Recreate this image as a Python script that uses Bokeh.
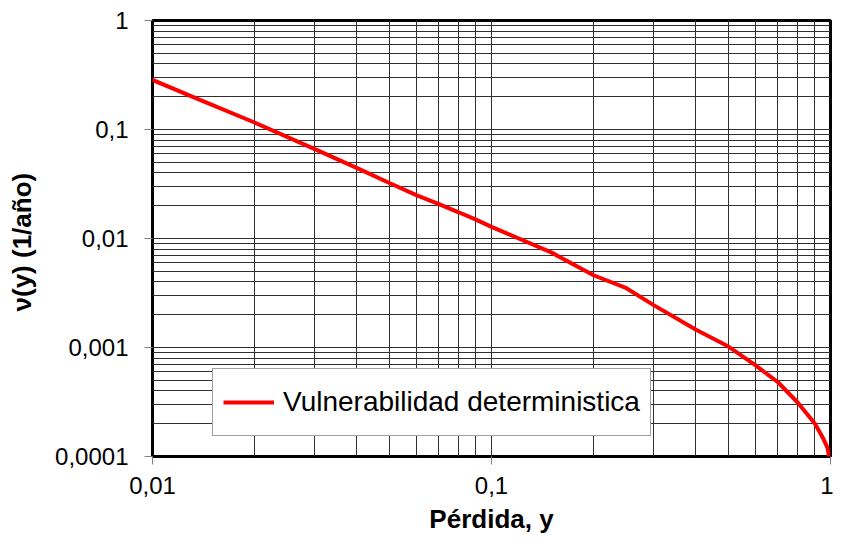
from bokeh.plotting import figure
from bokeh.models import FixedTicker, CustomJSTickFormatter
from bokeh.embed import file_html
from bokeh.resources import INLINE

# ---- data ----
perdida = [0.01, 0.0138, 0.02, 0.03, 0.04, 0.05, 0.06, 0.07, 0.08, 0.09, 0.1,
           0.15, 0.2, 0.25, 0.3, 0.4, 0.5, 0.6, 0.7, 0.8, 0.9, 0.95, 0.98, 0.99]
tasa = [0.285, 0.187, 0.116, 0.0665, 0.0445, 0.0323, 0.025, 0.0207, 0.0174, 0.0149, 0.0128,
        0.00746, 0.0046, 0.0035, 0.00246, 0.00146, 0.00102, 0.00069, 0.00048, 0.000313,
        0.0002, 0.000148, 0.00012, 0.0001]
serie_label = "Vulnerabilidad deterministica"
x_title = "Pérdida, y"
y_title = "ν(y)  (1/año)"

x_major = [0.01, 0.1, 1]
y_major = [0.0001, 0.001, 0.01, 0.1, 1]
x_minor = [m * d for d in (0.01, 0.1) for m in range(2, 10)]
y_minor = [m * d for d in (0.0001, 0.001, 0.01, 0.1) for m in range(2, 10)]

W, H = 833, 546
FL, FR, FT, FB = 152, 830, 20, 456   # frame edges in figure pixels

p = figure(width=W, height=H, x_axis_type="log", y_axis_type="log",
           x_range=(0.01, 1), y_range=(0.0001, 1),
           output_backend="svg", toolbar_location=None,
           min_border_left=FL, min_border_right=W - FR, min_border_top=FT, min_border_bottom=H - FB)

p.background_fill_color = "white"
p.border_fill_color = "white"
p.outline_line_color = "black"
p.outline_line_width = 3

p.xaxis.axis_label = x_title
p.yaxis.axis_label = y_title

for ax, major, minor, standoff, lstand in ((p.xaxis[0], x_major, x_minor, 12, 7),
                                           (p.yaxis[0], y_major, y_minor, 16, 15)):
    ax.ticker = FixedTicker(ticks=major, minor_ticks=minor)
    ax.formatter = CustomJSTickFormatter(code="return String(tick).replace('.', ',');")
    ax.axis_line_color = None
    ax.major_tick_out = 8
    ax.major_tick_in = 0
    ax.major_tick_line_color = "#808080"
    ax.major_tick_line_width = 1
    ax.minor_tick_line_color = None
    ax.major_label_text_font = "Liberation Sans"
    ax.major_label_text_font_size = "24px"
    ax.major_label_text_color = "black"
    ax.major_label_standoff = standoff
    ax.axis_label_text_font = "Liberation Sans"
    ax.axis_label_text_font_style = "bold"
    ax.axis_label_text_font_size = "26px"
    ax.axis_label_text_color = "black"
    ax.axis_label_standoff = lstand

for g in (p.xgrid[0], p.ygrid[0]):
    g.grid_line_color = "#303030"
    g.grid_line_width = 1
    g.minor_grid_line_color = "#303030"
    g.minor_grid_line_width = 1

p.line(perdida, tasa, line_color="#FF0000", line_width=4, legend_label=serie_label)

lg = p.legend[0]
lg.location = (60, 20)
lg.margin = 0
lg.padding = 10
lg.label_height = 46
lg.glyph_width = 51
lg.glyph_height = 20
lg.label_standoff = 9
lg.label_text_font = "Liberation Sans"
lg.label_text_font_size = "28px"
lg.label_text_color = "black"
lg.border_line_color = "#404040"
lg.border_line_width = 1.5
lg.background_fill_color = "white"
lg.background_fill_alpha = 1

open("out.html", "w").write(file_html(p, INLINE))
